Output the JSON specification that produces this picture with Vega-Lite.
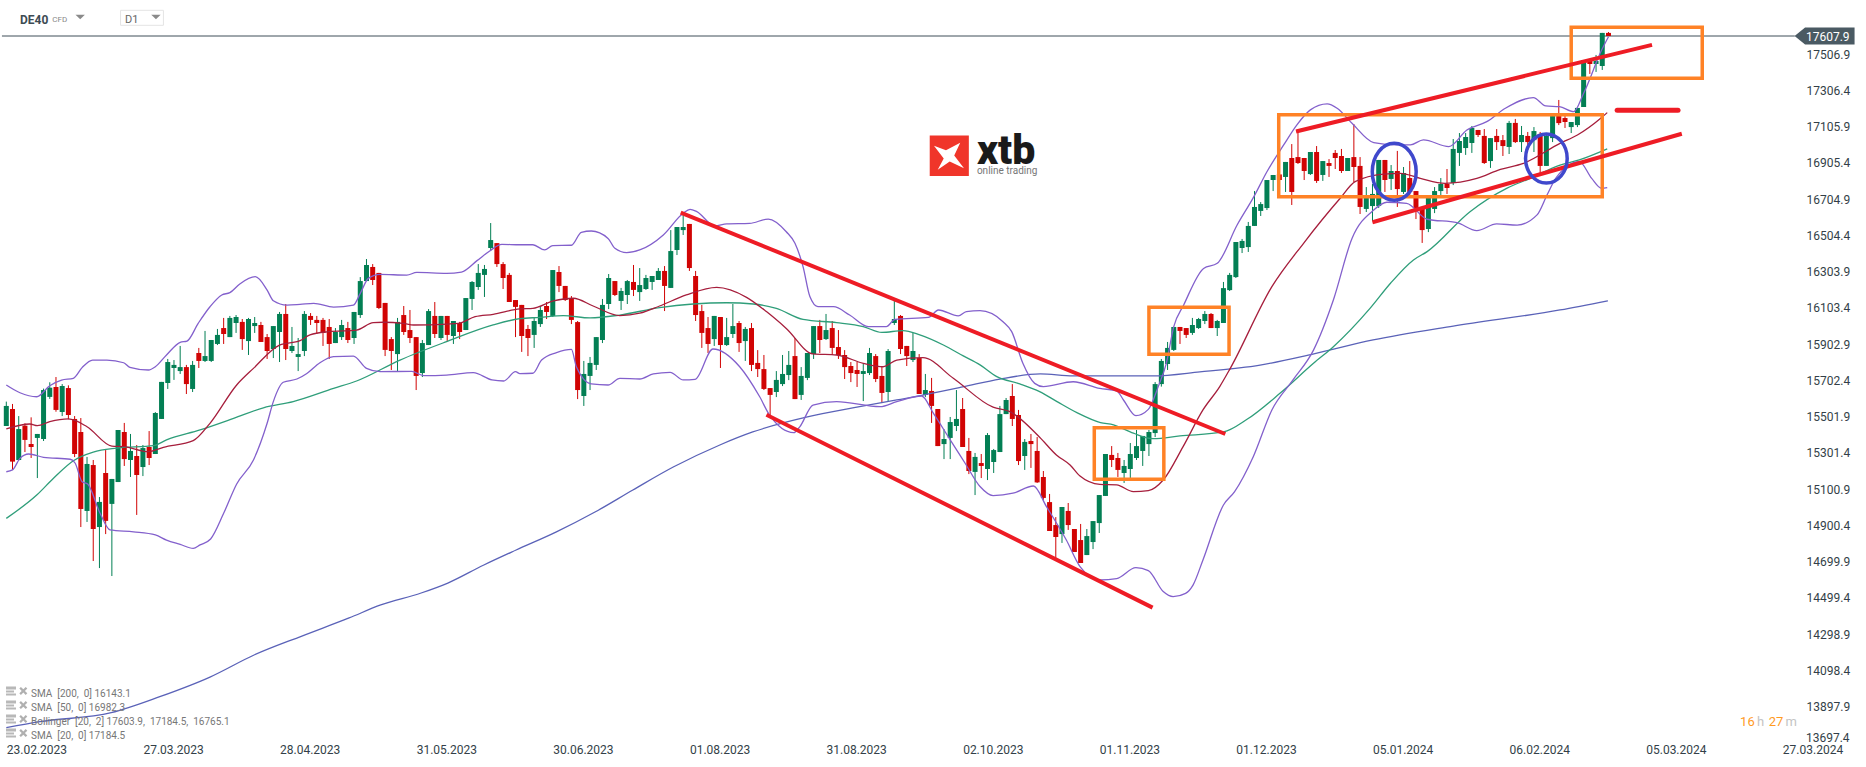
{
"$schema":"https://vega.github.io/schema/vega-lite/v6.json",
"width":1866,"height":767,"padding":0,"autosize":{"type":"none"},"background":"#ffffff",
"config":{"view":{"stroke":null},"font":"Roboto"},
"datasets":{
"candles":[
{"i":0,"o":15450,"c":15561,"h":15585,"l":15450},{"i":1,"o":15544,"c":15253,"h":15572,"l":15207},{"i":2,"o":15262,"c":15433,"h":15505,"l":15258},{"i":3,"o":15452,"c":15373,"h":15465,"l":15306},{"i":4,"o":15350,"c":15334,"h":15498,"l":15273},{"i":5,"o":15384,"c":15406,"h":15406,"l":15162},{"i":6,"o":15378,"c":15649,"h":15657,"l":15367},{"i":7,"o":15611,"c":15662,"h":15692,"l":15600},{"i":8,"o":15666,"c":15539,"h":15721,"l":15529},{"i":9,"o":15527,"c":15671,"h":15682,"l":15505},
{"i":10,"o":15660,"c":15511,"h":15675,"l":15487},{"i":11,"o":15489,"c":15295,"h":15505,"l":15278},{"i":12,"o":15417,"c":14991,"h":15494,"l":14891},{"i":13,"o":14980,"c":15240,"h":15279,"l":14919},{"i":14,"o":15234,"c":14880,"h":15262,"l":14703},{"i":15,"o":14891,"c":15030,"h":15057,"l":14664},{"i":16,"o":15190,"c":14925,"h":15317,"l":14852},{"i":17,"o":15019,"c":15157,"h":15157,"l":14620},{"i":18,"o":15140,"c":15428,"h":15428,"l":15140},{"i":19,"o":15417,"c":15267,"h":15467,"l":15229},
{"i":20,"o":15262,"c":15312,"h":15406,"l":15168},{"i":21,"o":15284,"c":15179,"h":15345,"l":14958},{"i":22,"o":15223,"c":15328,"h":15345,"l":15173},{"i":23,"o":15334,"c":15273,"h":15422,"l":15234},{"i":24,"o":15295,"c":15522,"h":15527,"l":15295},{"i":25,"o":15489,"c":15694,"h":15694,"l":15489},{"i":26,"o":15688,"c":15804,"h":15821,"l":15655},{"i":27,"o":15771,"c":15788,"h":15815,"l":15705},{"i":28,"o":15754,"c":15776,"h":15893,"l":15738},{"i":29,"o":15776,"c":15682,"h":15788,"l":15627},
{"i":30,"o":15655,"c":15788,"h":15810,"l":15638},{"i":31,"o":15854,"c":15810,"h":15882,"l":15771},{"i":32,"o":15810,"c":15837,"h":15976,"l":15804},{"i":33,"o":15810,"c":15926,"h":15926,"l":15804},{"i":34,"o":15904,"c":15954,"h":15987,"l":15898},{"i":35,"o":15992,"c":15959,"h":16048,"l":15904},{"i":36,"o":15942,"c":16048,"h":16059,"l":15942},{"i":37,"o":16020,"c":16053,"h":16064,"l":15965},{"i":38,"o":16026,"c":15931,"h":16042,"l":15871},{"i":39,"o":15920,"c":16042,"h":16048,"l":15843},
{"i":40,"o":16003,"c":16020,"h":16053,"l":15965},{"i":41,"o":16009,"c":15915,"h":16026,"l":15915},{"i":42,"o":15942,"c":15865,"h":15959,"l":15821},{"i":43,"o":15876,"c":16003,"h":16003,"l":15826},{"i":44,"o":15970,"c":16070,"h":16081,"l":15804},{"i":45,"o":16070,"c":15876,"h":16125,"l":15815},{"i":46,"o":15865,"c":15893,"h":15998,"l":15854},{"i":47,"o":15832,"c":15848,"h":15937,"l":15754},{"i":48,"o":15865,"c":16070,"h":16086,"l":15837},{"i":49,"o":16059,"c":16037,"h":16075,"l":16009},
{"i":50,"o":16037,"c":16020,"h":16059,"l":15959},{"i":51,"o":16037,"c":15965,"h":16048,"l":15893},{"i":52,"o":15998,"c":15904,"h":16042,"l":15821},{"i":53,"o":15909,"c":15970,"h":15992,"l":15909},{"i":54,"o":15942,"c":16009,"h":16037,"l":15926},{"i":55,"o":15992,"c":15926,"h":16026,"l":15909},{"i":56,"o":15937,"c":16081,"h":16081,"l":15904},{"i":57,"o":16064,"c":16252,"h":16274,"l":16048},{"i":58,"o":16252,"c":16341,"h":16374,"l":16252},{"i":59,"o":16330,"c":16258,"h":16346,"l":16230},
{"i":60,"o":16297,"c":16103,"h":16297,"l":16097},{"i":61,"o":16131,"c":15871,"h":16131,"l":15837},{"i":62,"o":15931,"c":15865,"h":15942,"l":15760},{"i":63,"o":15848,"c":16026,"h":16048,"l":15754},{"i":64,"o":16064,"c":15970,"h":16114,"l":15954},{"i":65,"o":15981,"c":15937,"h":16092,"l":15909},{"i":66,"o":15942,"c":15727,"h":15942,"l":15649},{"i":67,"o":15743,"c":15909,"h":15926,"l":15721},{"i":68,"o":15898,"c":16086,"h":16097,"l":15898},{"i":69,"o":16059,"c":15959,"h":16136,"l":15937},
{"i":70,"o":15937,"c":16059,"h":16059,"l":15926},{"i":71,"o":16059,"c":15954,"h":16059,"l":15920},{"i":72,"o":15948,"c":16031,"h":16031,"l":15904},{"i":73,"o":16020,"c":15970,"h":16026,"l":15931},{"i":74,"o":15981,"c":16158,"h":16158,"l":15981},{"i":75,"o":16153,"c":16247,"h":16252,"l":16092},{"i":76,"o":16219,"c":16297,"h":16346,"l":16203},{"i":77,"o":16286,"c":16319,"h":16341,"l":16164},{"i":78,"o":16435,"c":16479,"h":16573,"l":16418},{"i":79,"o":16462,"c":16346,"h":16462,"l":16330},
{"i":80,"o":16346,"c":16269,"h":16357,"l":16208},{"i":81,"o":16286,"c":16136,"h":16297,"l":16136},{"i":82,"o":16147,"c":16109,"h":16147,"l":15942},{"i":83,"o":16120,"c":15948,"h":16120,"l":15860},{"i":84,"o":15987,"c":15937,"h":16009,"l":15837},{"i":85,"o":15954,"c":16031,"h":16053,"l":15882},{"i":86,"o":16014,"c":16092,"h":16114,"l":15998},{"i":87,"o":16114,"c":16081,"h":16136,"l":16042},{"i":88,"o":16059,"c":16313,"h":16313,"l":16053},{"i":89,"o":16302,"c":16225,"h":16335,"l":16191},
{"i":90,"o":16225,"c":16147,"h":16225,"l":16142},{"i":91,"o":16158,"c":16037,"h":16169,"l":16014},{"i":92,"o":16025,"c":15649,"h":16031,"l":15599},{"i":93,"o":15616,"c":15738,"h":15810,"l":15561},{"i":94,"o":15727,"c":15799,"h":15832,"l":15649},{"i":95,"o":15788,"c":15942,"h":15942,"l":15760},{"i":96,"o":15926,"c":16120,"h":16153,"l":15909},{"i":97,"o":16125,"c":16269,"h":16291,"l":16097},{"i":98,"o":16252,"c":16175,"h":16252,"l":16169},{"i":99,"o":16142,"c":16197,"h":16214,"l":16092},
{"i":100,"o":16175,"c":16252,"h":16258,"l":16125},{"i":101,"o":16247,"c":16203,"h":16341,"l":16169},{"i":102,"o":16191,"c":16230,"h":16324,"l":16142},{"i":103,"o":16208,"c":16269,"h":16286,"l":16203},{"i":104,"o":16247,"c":16280,"h":16280,"l":16203},{"i":105,"o":16258,"c":16308,"h":16324,"l":16258},{"i":106,"o":16308,"c":16225,"h":16335,"l":16086},{"i":107,"o":16214,"c":16418,"h":16534,"l":16214},{"i":108,"o":16424,"c":16551,"h":16551,"l":16396},{"i":109,"o":16534,"c":16551,"h":16617,"l":16507},
{"i":110,"o":16568,"c":16324,"h":16568,"l":16308},{"i":111,"o":16280,"c":16064,"h":16308,"l":16031},{"i":112,"o":16086,"c":15965,"h":16120,"l":15882},{"i":113,"o":15992,"c":15904,"h":16053,"l":15854},{"i":114,"o":15931,"c":16059,"h":16059,"l":15893},{"i":115,"o":16053,"c":15898,"h":16053,"l":15771},{"i":116,"o":15898,"c":15942,"h":16048,"l":15893},{"i":117,"o":15959,"c":16003,"h":16125,"l":15937},{"i":118,"o":16020,"c":15909,"h":16031,"l":15860},{"i":119,"o":15920,"c":15987,"h":15998,"l":15810},
{"i":120,"o":15992,"c":15788,"h":16020,"l":15754},{"i":121,"o":15799,"c":15765,"h":15870,"l":15721},{"i":122,"o":15765,"c":15655,"h":15843,"l":15649},{"i":123,"o":15660,"c":15622,"h":15660,"l":15505},{"i":124,"o":15638,"c":15705,"h":15754,"l":15610},{"i":125,"o":15682,"c":15738,"h":15843,"l":15671},{"i":126,"o":15732,"c":15788,"h":15865,"l":15704},{"i":127,"o":15837,"c":15599,"h":15937,"l":15599},{"i":128,"o":15622,"c":15727,"h":15776,"l":15594},{"i":129,"o":15716,"c":15854,"h":15854,"l":15704},
{"i":130,"o":15848,"c":16003,"h":16003,"l":15821},{"i":131,"o":16003,"c":15926,"h":16037,"l":15854},{"i":132,"o":15931,"c":15981,"h":16070,"l":15926},{"i":133,"o":15992,"c":15882,"h":16031,"l":15843},{"i":134,"o":15887,"c":15843,"h":15981,"l":15821},{"i":135,"o":15843,"c":15776,"h":15870,"l":15710},{"i":136,"o":15782,"c":15743,"h":15804,"l":15693},{"i":137,"o":15760,"c":15738,"h":15804,"l":15666},{"i":138,"o":15738,"c":15754,"h":15793,"l":15588},{"i":139,"o":15743,"c":15854,"h":15882,"l":15732},
{"i":140,"o":15837,"c":15710,"h":15848,"l":15693},{"i":141,"o":15727,"c":15633,"h":15782,"l":15577},{"i":142,"o":15638,"c":15865,"h":15876,"l":15588},{"i":143,"o":16020,"c":16042,"h":16142,"l":16009},{"i":144,"o":16059,"c":15876,"h":16064,"l":15848},{"i":145,"o":15893,"c":15837,"h":15893,"l":15782},{"i":146,"o":15815,"c":15865,"h":15965,"l":15804},{"i":147,"o":15826,"c":15627,"h":15848,"l":15627},{"i":148,"o":15622,"c":15649,"h":15738,"l":15610},{"i":149,"o":15644,"c":15561,"h":15716,"l":15467},
{"i":150,"o":15544,"c":15339,"h":15544,"l":15339},{"i":151,"o":15350,"c":15378,"h":15433,"l":15267},{"i":152,"o":15384,"c":15472,"h":15500,"l":15267},{"i":153,"o":15450,"c":15489,"h":15649,"l":15422},{"i":154,"o":15544,"c":15334,"h":15605,"l":15334},{"i":155,"o":15312,"c":15201,"h":15384,"l":15184},{"i":156,"o":15196,"c":15279,"h":15301,"l":15068},{"i":157,"o":15245,"c":15229,"h":15295,"l":15162},{"i":158,"o":15212,"c":15400,"h":15411,"l":15151},{"i":159,"o":15251,"c":15317,"h":15323,"l":15190},
{"i":160,"o":15306,"c":15516,"h":15561,"l":15306},{"i":161,"o":15516,"c":15594,"h":15605,"l":15516},{"i":162,"o":15616,"c":15489,"h":15682,"l":15450},{"i":163,"o":15511,"c":15256,"h":15539,"l":15234},{"i":164,"o":15284,"c":15362,"h":15378,"l":15207},{"i":165,"o":15367,"c":15350,"h":15406,"l":15218},{"i":166,"o":15312,"c":15138,"h":15389,"l":15135},{"i":167,"o":15168,"c":15052,"h":15201,"l":15041},{"i":168,"o":15029,"c":14869,"h":15074,"l":14869},{"i":169,"o":14902,"c":14836,"h":14946,"l":14720},
{"i":170,"o":14852,"c":15002,"h":15002,"l":14803},{"i":171,"o":14980,"c":14902,"h":15024,"l":14875},{"i":172,"o":14880,"c":14753,"h":14880,"l":14753},{"i":173,"o":14819,"c":14692,"h":14908,"l":14692},{"i":174,"o":14736,"c":14841,"h":14880,"l":14736},{"i":175,"o":14808,"c":14924,"h":14924,"l":14769},{"i":176,"o":14913,"c":15068,"h":15068,"l":14858},{"i":177,"o":15063,"c":15295,"h":15295,"l":15063},{"i":178,"o":15290,"c":15262,"h":15339,"l":15223},{"i":179,"o":15273,"c":15207,"h":15301,"l":15168},
{"i":180,"o":15190,"c":15229,"h":15262,"l":15135},{"i":181,"o":15212,"c":15295,"h":15356,"l":15162},{"i":182,"o":15273,"c":15339,"h":15428,"l":15262},{"i":183,"o":15312,"c":15395,"h":15395,"l":15229},{"i":184,"o":15350,"c":15417,"h":15428,"l":15284},{"i":185,"o":15411,"c":15682,"h":15693,"l":15389},{"i":186,"o":15682,"c":15810,"h":15821,"l":15668},{"i":187,"o":15793,"c":15882,"h":15915,"l":15760},{"i":188,"o":15871,"c":15998,"h":15998,"l":15865},{"i":189,"o":15998,"c":15976,"h":15998,"l":15904},
{"i":190,"o":15992,"c":15954,"h":15992,"l":15937},{"i":191,"o":15965,"c":16009,"h":16048,"l":15954},{"i":192,"o":15992,"c":16042,"h":16048,"l":15987},{"i":193,"o":16031,"c":16070,"h":16086,"l":16014},{"i":194,"o":16070,"c":15992,"h":16075,"l":15992},{"i":195,"o":15992,"c":16031,"h":16037,"l":15948},{"i":196,"o":16020,"c":16213,"h":16247,"l":16020},{"i":197,"o":16202,"c":16286,"h":16297,"l":16197},{"i":198,"o":16274,"c":16468,"h":16468,"l":16269},{"i":199,"o":16435,"c":16474,"h":16485,"l":16407},
{"i":200,"o":16440,"c":16557,"h":16579,"l":16413},{"i":201,"o":16557,"c":16662,"h":16750,"l":16557},{"i":202,"o":16640,"c":16678,"h":16689,"l":16612},{"i":203,"o":16656,"c":16811,"h":16811,"l":16645},{"i":204,"o":16811,"c":16839,"h":16839,"l":16750},{"i":205,"o":16842,"c":16811,"h":16850,"l":16800},{"i":206,"o":16828,"c":16911,"h":16911,"l":16745},{"i":207,"o":16933,"c":16745,"h":17010,"l":16673},{"i":208,"o":16938,"c":16905,"h":17082,"l":16900},{"i":209,"o":16933,"c":16861,"h":16933,"l":16811},
{"i":210,"o":16844,"c":16966,"h":16966,"l":16839},{"i":211,"o":16966,"c":16806,"h":16999,"l":16795},{"i":212,"o":16839,"c":16916,"h":16916,"l":16806},{"i":213,"o":16905,"c":16889,"h":16927,"l":16828},{"i":214,"o":16961,"c":16933,"h":16977,"l":16872},{"i":215,"o":16944,"c":16861,"h":16983,"l":16850},{"i":216,"o":16861,"c":16933,"h":16933,"l":16861},{"i":217,"o":16938,"c":16883,"h":17121,"l":16800},{"i":218,"o":16889,"c":16662,"h":16938,"l":16623},{"i":219,"o":16651,"c":16717,"h":16772,"l":16634},
{"i":220,"o":16667,"c":16734,"h":16789,"l":16584},{"i":221,"o":16667,"c":16922,"h":16922,"l":16656},{"i":222,"o":16922,"c":16811,"h":16922,"l":16745},{"i":223,"o":16817,"c":16861,"h":16894,"l":16756},{"i":224,"o":16861,"c":16761,"h":16972,"l":16662},{"i":225,"o":16745,"c":16850,"h":16883,"l":16734},{"i":226,"o":16822,"c":16745,"h":16916,"l":16728},{"i":227,"o":16750,"c":16656,"h":16750,"l":16595},{"i":228,"o":16651,"c":16534,"h":16651,"l":16463},{"i":229,"o":16540,"c":16712,"h":16712,"l":16523},
{"i":230,"o":16651,"c":16750,"h":16772,"l":16628},{"i":231,"o":16750,"c":16789,"h":16822,"l":16728},{"i":232,"o":16789,"c":16767,"h":16872,"l":16734},{"i":233,"o":16795,"c":16983,"h":17038,"l":16783},{"i":234,"o":16961,"c":17027,"h":17071,"l":16889},{"i":235,"o":16988,"c":17049,"h":17071,"l":16950},{"i":236,"o":17016,"c":17099,"h":17110,"l":16961},{"i":237,"o":17088,"c":17060,"h":17088,"l":17049},{"i":238,"o":17055,"c":16905,"h":17093,"l":16900},{"i":239,"o":16916,"c":17043,"h":17043,"l":16878},
{"i":240,"o":17055,"c":17021,"h":17093,"l":16977},{"i":241,"o":17032,"c":16999,"h":17060,"l":16944},{"i":242,"o":16994,"c":17127,"h":17138,"l":16955},{"i":243,"o":17127,"c":17021,"h":17149,"l":17016},{"i":244,"o":17021,"c":17060,"h":17110,"l":16966},{"i":245,"o":17055,"c":17021,"h":17077,"l":16977},{"i":246,"o":17032,"c":17082,"h":17104,"l":16966},{"i":247,"o":17066,"c":16889,"h":17077,"l":16850},{"i":248,"o":16889,"c":17055,"h":17071,"l":16889},{"i":249,"o":17043,"c":17165,"h":17171,"l":17021},
{"i":250,"o":17165,"c":17126,"h":17254,"l":17115},{"i":251,"o":17154,"c":17132,"h":17165,"l":17099},{"i":252,"o":17104,"c":17132,"h":17132,"l":17071},{"i":253,"o":17115,"c":17210,"h":17210,"l":17104},{"i":254,"o":17215,"c":17475,"h":17475,"l":17215},{"i":255,"o":17475,"c":17453,"h":17475,"l":17398},{"i":256,"o":17453,"c":17470,"h":17503,"l":17409},{"i":257,"o":17442,"c":17625,"h":17625,"l":17420},{"i":258,"o":17625,"c":17608,"h":17630,"l":17608}
],
"lines":[
{"s":"SMA200","i":0,"p":13781},{"s":"SMA200","i":5.4,"p":13814},{"s":"SMA200","i":16.9,"p":13864},{"s":"SMA200","i":24.6,"p":13951},{"s":"SMA200","i":32.8,"p":14061},{"s":"SMA200","i":39.9,"p":14183},{"s":"SMA200","i":47.6,"p":14288},{"s":"SMA200","i":55.2,"p":14388},{"s":"SMA200","i":60.3,"p":14460},{"s":"SMA200","i":66.8,"p":14526},{"s":"SMA200","i":71.1,"p":14581},{"s":"SMA200","i":76.9,"p":14681},{"s":"SMA200","i":82.1,"p":14764},{"s":"SMA200","i":88.5,"p":14863},{"s":"SMA200","i":94.8,"p":14974},{"s":"SMA200","i":100.9,"p":15096},{"s":"SMA200","i":107.4,"p":15223},{"s":"SMA200","i":114.9,"p":15345},{"s":"SMA200","i":120.2,"p":15417},{"s":"SMA200","i":129,"p":15500},{"s":"SMA200","i":136.3,"p":15550},{"s":"SMA200","i":143.4,"p":15594},{"s":"SMA200","i":147.6,"p":15621},{"s":"SMA200","i":154,"p":15666},{"s":"SMA200","i":160,"p":15710},{"s":"SMA200","i":166.5,"p":15738},{"s":"SMA200","i":171.8,"p":15727},{"s":"SMA200","i":184.7,"p":15727},{"s":"SMA200","i":192.2,"p":15749},{"s":"SMA200","i":201.9,"p":15787},{"s":"SMA200","i":210.4,"p":15848},{"s":"SMA200","i":220.1,"p":15926},{"s":"SMA200","i":233,"p":16003},{"s":"SMA200","i":250.2,"p":16092},{"s":"SMA200","i":257.9,"p":16143},
{"s":"SMA50","i":0,"p":14939},{"s":"SMA50","i":4.9,"p":15068},{"s":"SMA50","i":7.6,"p":15161},{"s":"SMA50","i":10.8,"p":15258},{"s":"SMA50","i":14,"p":15306},{"s":"SMA50","i":17.8,"p":15328},{"s":"SMA50","i":23.7,"p":15341},{"s":"SMA50","i":25.8,"p":15373},{"s":"SMA50","i":31.2,"p":15428},{"s":"SMA50","i":36.6,"p":15492},{"s":"SMA50","i":41.4,"p":15551},{"s":"SMA50","i":46.2,"p":15585},{"s":"SMA50","i":52.7,"p":15658},{"s":"SMA50","i":56.4,"p":15699},{"s":"SMA50","i":63.4,"p":15815},{"s":"SMA50","i":70.9,"p":15917},{"s":"SMA50","i":78.4,"p":16009},{"s":"SMA50","i":82.7,"p":16044},{"s":"SMA50","i":85.9,"p":16051},{"s":"SMA50","i":89.7,"p":16061},{"s":"SMA50","i":94,"p":16048},{"s":"SMA50","i":98.8,"p":16064},{"s":"SMA50","i":105.2,"p":16105},{"s":"SMA50","i":110.6,"p":16125},{"s":"SMA50","i":116,"p":16132},{"s":"SMA50","i":120.3,"p":16125},{"s":"SMA50","i":124,"p":16101},{"s":"SMA50","i":128.3,"p":16040},{"s":"SMA50","i":133.7,"p":16022},{"s":"SMA50","i":138,"p":16000},{"s":"SMA50","i":141,"p":15968},{"s":"SMA50","i":144.4,"p":15978},{"s":"SMA50","i":147.1,"p":15954},{"s":"SMA50","i":150.9,"p":15898},{"s":"SMA50","i":154.1,"p":15838},{"s":"SMA50","i":156.8,"p":15788},{"s":"SMA50","i":159.5,"p":15723},{"s":"SMA50","i":163.2,"p":15683},{"s":"SMA50","i":166.4,"p":15640},{"s":"SMA50","i":169.2,"p":15585},{"s":"SMA50","i":172.4,"p":15524},{"s":"SMA50","i":176.2,"p":15469},{"s":"SMA50","i":178.3,"p":15456},{"s":"SMA50","i":181.5,"p":15410},{"s":"SMA50","i":184.7,"p":15380},{"s":"SMA50","i":189,"p":15395},{"s":"SMA50","i":196,"p":15417},{"s":"SMA50","i":199.8,"p":15487},{"s":"SMA50","i":205.1,"p":15631},{"s":"SMA50","i":210.5,"p":15797},{"s":"SMA50","i":213.7,"p":15889},{"s":"SMA50","i":219.6,"p":16101},{"s":"SMA50","i":222.9,"p":16240},{"s":"SMA50","i":226.6,"p":16369},{"s":"SMA50","i":228.8,"p":16415},{"s":"SMA50","i":235.7,"p":16636},{"s":"SMA50","i":241.6,"p":16765},{"s":"SMA50","i":245.4,"p":16820},{"s":"SMA50","i":250.2,"p":16894},{"s":"SMA50","i":253.3,"p":16922},{"s":"SMA50","i":257.8,"p":16983},
{"s":"SMA20","i":0,"p":15434},{"s":"SMA20","i":3.8,"p":15461},{"s":"SMA20","i":5,"p":15452},{"s":"SMA20","i":7,"p":15474},{"s":"SMA20","i":10,"p":15489},{"s":"SMA20","i":13,"p":15446},{"s":"SMA20","i":17,"p":15339},{"s":"SMA20","i":18.9,"p":15336},{"s":"SMA20","i":22.9,"p":15308},{"s":"SMA20","i":25.3,"p":15332},{"s":"SMA20","i":30.1,"p":15369},{"s":"SMA20","i":32.8,"p":15465},{"s":"SMA20","i":37.1,"p":15677},{"s":"SMA20","i":39.8,"p":15769},{"s":"SMA20","i":44,"p":15898},{"s":"SMA20","i":47.3,"p":15922},{"s":"SMA20","i":48.9,"p":15954},{"s":"SMA20","i":51.9,"p":15972},{"s":"SMA20","i":56.4,"p":15981},{"s":"SMA20","i":59.1,"p":16022},{"s":"SMA20","i":60.7,"p":16024},{"s":"SMA20","i":63.9,"p":16018},{"s":"SMA20","i":65.6,"p":16009},{"s":"SMA20","i":71,"p":16014},{"s":"SMA20","i":72.8,"p":16018},{"s":"SMA20","i":75.5,"p":16055},{"s":"SMA20","i":78.4,"p":16068},{"s":"SMA20","i":82.7,"p":16098},{"s":"SMA20","i":84.8,"p":16101},{"s":"SMA20","i":88.1,"p":16142},{"s":"SMA20","i":91.3,"p":16157},{"s":"SMA20","i":94.5,"p":16114},{"s":"SMA20","i":98.8,"p":16061},{"s":"SMA20","i":102,"p":16074},{"s":"SMA20","i":105.2,"p":16114},{"s":"SMA20","i":109.5,"p":16175},{"s":"SMA20","i":114.4,"p":16217},{"s":"SMA20","i":119.2,"p":16162},{"s":"SMA20","i":122.4,"p":16083},{"s":"SMA20","i":125.6,"p":15990},{"s":"SMA20","i":129.9,"p":15849},{"s":"SMA20","i":133.7,"p":15843},{"s":"SMA20","i":138,"p":15797},{"s":"SMA20","i":141.2,"p":15778},{"s":"SMA20","i":143.4,"p":15815},{"s":"SMA20","i":147.6,"p":15828},{"s":"SMA20","i":152.5,"p":15714},{"s":"SMA20","i":158.9,"p":15554},{"s":"SMA20","i":161.6,"p":15530},{"s":"SMA20","i":166.4,"p":15388},{"s":"SMA20","i":169.1,"p":15290},{"s":"SMA20","i":171.3,"p":15234},{"s":"SMA20","i":172.9,"p":15173},{"s":"SMA20","i":176.1,"p":15127},{"s":"SMA20","i":178.8,"p":15124},{"s":"SMA20","i":181.5,"p":15087},{"s":"SMA20","i":183.9,"p":15092},{"s":"SMA20","i":186.3,"p":15151},{"s":"SMA20","i":189.5,"p":15336},{"s":"SMA20","i":192.7,"p":15539},{"s":"SMA20","i":195.4,"p":15668},{"s":"SMA20","i":197.1,"p":15769},{"s":"SMA20","i":203.8,"p":16221},{"s":"SMA20","i":208.9,"p":16461},{"s":"SMA20","i":214.8,"p":16710},{"s":"SMA20","i":217.2,"p":16802},{"s":"SMA20","i":221.8,"p":16844},{"s":"SMA20","i":224.5,"p":16848},{"s":"SMA20","i":227.7,"p":16820},{"s":"SMA20","i":231.7,"p":16793},{"s":"SMA20","i":236.8,"p":16820},{"s":"SMA20","i":240.6,"p":16870},{"s":"SMA20","i":244.3,"p":16903},{"s":"SMA20","i":250.2,"p":17014},{"s":"SMA20","i":253,"p":17060},{"s":"SMA20","i":256.8,"p":17154},{"s":"SMA20","i":257.8,"p":17184},
{"s":"Upper","i":0,"p":15677},{"s":"Upper","i":2.2,"p":15634},{"s":"Upper","i":4.9,"p":15612},{"s":"Upper","i":7,"p":15673},{"s":"Upper","i":8.9,"p":15704},{"s":"Upper","i":10.8,"p":15714},{"s":"Upper","i":12.2,"p":15773},{"s":"Upper","i":13.9,"p":15815},{"s":"Upper","i":16.2,"p":15815},{"s":"Upper","i":18.9,"p":15800},{"s":"Upper","i":19.9,"p":15775},{"s":"Upper","i":22.9,"p":15760},{"s":"Upper","i":24,"p":15778},{"s":"Upper","i":25.8,"p":15843},{"s":"Upper","i":28,"p":15913},{"s":"Upper","i":29.1,"p":15920},{"s":"Upper","i":30.9,"p":16018},{"s":"Upper","i":32.8,"p":16110},{"s":"Upper","i":34.7,"p":16175},{"s":"Upper","i":36,"p":16188},{"s":"Upper","i":37.6,"p":16236},{"s":"Upper","i":40.1,"p":16276},{"s":"Upper","i":42,"p":16202},{"s":"Upper","i":43,"p":16143},{"s":"Upper","i":45.2,"p":16119},{"s":"Upper","i":47.3,"p":16123},{"s":"Upper","i":49.5,"p":16129},{"s":"Upper","i":52.7,"p":16108},{"s":"Upper","i":55.9,"p":16119},{"s":"Upper","i":57,"p":16184},{"s":"Upper","i":58.3,"p":16267},{"s":"Upper","i":60.2,"p":16289},{"s":"Upper","i":64.5,"p":16285},{"s":"Upper","i":66.1,"p":16300},{"s":"Upper","i":70.9,"p":16295},{"s":"Upper","i":73.3,"p":16302},{"s":"Upper","i":75.8,"p":16365},{"s":"Upper","i":77.9,"p":16420},{"s":"Upper","i":79.8,"p":16455},{"s":"Upper","i":82.7,"p":16453},{"s":"Upper","i":84.8,"p":16453},{"s":"Upper","i":86.7,"p":16424},{"s":"Upper","i":88,"p":16448},{"s":"Upper","i":91,"p":16450},{"s":"Upper","i":92.6,"p":16522},{"s":"Upper","i":94.2,"p":16529},{"s":"Upper","i":96.9,"p":16488},{"s":"Upper","i":98,"p":16433},{"s":"Upper","i":99.9,"p":16409},{"s":"Upper","i":102,"p":16424},{"s":"Upper","i":105.8,"p":16507},{"s":"Upper","i":109,"p":16627},{"s":"Upper","i":110.1,"p":16649},{"s":"Upper","i":111.2,"p":16636},{"s":"Upper","i":114.1,"p":16557},{"s":"Upper","i":116,"p":16568},{"s":"Upper","i":119.7,"p":16571},{"s":"Upper","i":122.7,"p":16595},{"s":"Upper","i":125.6,"p":16525},{"s":"Upper","i":127,"p":16461},{"s":"Upper","i":128.3,"p":16332},{"s":"Upper","i":129.4,"p":16166},{"s":"Upper","i":130.7,"p":16110},{"s":"Upper","i":133.2,"p":16110},{"s":"Upper","i":135.8,"p":16064},{"s":"Upper","i":138.8,"p":16000},{"s":"Upper","i":141.7,"p":16000},{"s":"Upper","i":143.1,"p":16040},{"s":"Upper","i":148.5,"p":16051},{"s":"Upper","i":150.1,"p":16092},{"s":"Upper","i":153.3,"p":16059},{"s":"Upper","i":154.6,"p":16083},{"s":"Upper","i":156.8,"p":16088},{"s":"Upper","i":160.5,"p":16027},{"s":"Upper","i":161.9,"p":15972},{"s":"Upper","i":163.7,"p":15797},{"s":"Upper","i":165.6,"p":15686},{"s":"Upper","i":167,"p":15668},{"s":"Upper","i":171.8,"p":15695},{"s":"Upper","i":176.1,"p":15658},{"s":"Upper","i":178.8,"p":15645},{"s":"Upper","i":179.9,"p":15594},{"s":"Upper","i":181.9,"p":15507},{"s":"Upper","i":183.9,"p":15542},{"s":"Upper","i":185.5,"p":15668},{"s":"Upper","i":186.8,"p":15797},{"s":"Upper","i":188,"p":16000},{"s":"Upper","i":189.6,"p":16120},{"s":"Upper","i":192.8,"p":16322},{"s":"Upper","i":195,"p":16350},{"s":"Upper","i":198.2,"p":16562},{"s":"Upper","i":200.9,"p":16719},{"s":"Upper","i":203,"p":16857},{"s":"Upper","i":205.7,"p":17005},{"s":"Upper","i":207.8,"p":17115},{"s":"Upper","i":210,"p":17199},{"s":"Upper","i":212.7,"p":17232},{"s":"Upper","i":214.3,"p":17208},{"s":"Upper","i":216.7,"p":17125},{"s":"Upper","i":220.2,"p":17018},{"s":"Upper","i":224,"p":17005},{"s":"Upper","i":226.1,"p":17005},{"s":"Upper","i":228.2,"p":17033},{"s":"Upper","i":232.3,"p":16996},{"s":"Upper","i":235.2,"p":17088},{"s":"Upper","i":238.4,"p":17134},{"s":"Upper","i":241.4,"p":17208},{"s":"Upper","i":245.9,"p":17267},{"s":"Upper","i":247.9,"p":17221},{"s":"Upper","i":250.1,"p":17217},{"s":"Upper","i":252.4,"p":17189},{"s":"Upper","i":254,"p":17291},{"s":"Upper","i":256.9,"p":17530},{"s":"Upper","i":258,"p":17604},
{"s":"Lower","i":0,"p":15197},{"s":"Lower","i":1,"p":15207},{"s":"Lower","i":2.2,"p":15271},{"s":"Lower","i":3.6,"p":15295},{"s":"Lower","i":6,"p":15277},{"s":"Lower","i":10.3,"p":15266},{"s":"Lower","i":11.1,"p":15244},{"s":"Lower","i":12.2,"p":15142},{"s":"Lower","i":13.1,"p":15129},{"s":"Lower","i":15.1,"p":14967},{"s":"Lower","i":16.7,"p":14875},{"s":"Lower","i":20.5,"p":14864},{"s":"Lower","i":24,"p":14847},{"s":"Lower","i":25.8,"p":14819},{"s":"Lower","i":28,"p":14795},{"s":"Lower","i":30.1,"p":14773},{"s":"Lower","i":31.2,"p":14792},{"s":"Lower","i":32.9,"p":14825},{"s":"Lower","i":35,"p":14967},{"s":"Lower","i":37.1,"p":15129},{"s":"Lower","i":39.8,"p":15262},{"s":"Lower","i":42,"p":15465},{"s":"Lower","i":43,"p":15585},{"s":"Lower","i":44.6,"p":15692},{"s":"Lower","i":46.8,"p":15710},{"s":"Lower","i":48.4,"p":15741},{"s":"Lower","i":50.5,"p":15800},{"s":"Lower","i":52.7,"p":15834},{"s":"Lower","i":55.9,"p":15837},{"s":"Lower","i":58,"p":15769},{"s":"Lower","i":60.2,"p":15751},{"s":"Lower","i":65.3,"p":15752},{"s":"Lower","i":67.2,"p":15729},{"s":"Lower","i":70.9,"p":15732},{"s":"Lower","i":75.2,"p":15745},{"s":"Lower","i":78.2,"p":15705},{"s":"Lower","i":80.1,"p":15699},{"s":"Lower","i":82,"p":15751},{"s":"Lower","i":82.7,"p":15740},{"s":"Lower","i":84.8,"p":15742},{"s":"Lower","i":86.2,"p":15815},{"s":"Lower","i":88.6,"p":15856},{"s":"Lower","i":91,"p":15874},{"s":"Lower","i":91.8,"p":15778},{"s":"Lower","i":94.2,"p":15683},{"s":"Lower","i":96.9,"p":15677},{"s":"Lower","i":98.8,"p":15714},{"s":"Lower","i":102,"p":15710},{"s":"Lower","i":104.2,"p":15738},{"s":"Lower","i":106.9,"p":15747},{"s":"Lower","i":109,"p":15705},{"s":"Lower","i":110.9,"p":15708},{"s":"Lower","i":113.8,"p":15876},{"s":"Lower","i":118.1,"p":15778},{"s":"Lower","i":121.3,"p":15613},{"s":"Lower","i":122.9,"p":15511},{"s":"Lower","i":126.8,"p":15413},{"s":"Lower","i":127.8,"p":15447},{"s":"Lower","i":129.9,"p":15566},{"s":"Lower","i":133.7,"p":15585},{"s":"Lower","i":140.7,"p":15557},{"s":"Lower","i":143.4,"p":15585},{"s":"Lower","i":147.4,"p":15616},{"s":"Lower","i":149.3,"p":15520},{"s":"Lower","i":152,"p":15373},{"s":"Lower","i":154.4,"p":15244},{"s":"Lower","i":156.8,"p":15115},{"s":"Lower","i":158.9,"p":15065},{"s":"Lower","i":162.1,"p":15078},{"s":"Lower","i":165.4,"p":15118},{"s":"Lower","i":167.5,"p":15004},{"s":"Lower","i":170.7,"p":14819},{"s":"Lower","i":172.9,"p":14672},{"s":"Lower","i":176.1,"p":14598},{"s":"Lower","i":178.8,"p":14606},{"s":"Lower","i":181.9,"p":14666},{"s":"Lower","i":183.9,"p":14650},{"s":"Lower","i":186.3,"p":14534},{"s":"Lower","i":187.9,"p":14506},{"s":"Lower","i":189.9,"p":14524},{"s":"Lower","i":191.1,"p":14570},{"s":"Lower","i":192.7,"p":14709},{"s":"Lower","i":196,"p":15013},{"s":"Lower","i":197.8,"p":15087},{"s":"Lower","i":200.8,"p":15280},{"s":"Lower","i":203.8,"p":15539},{"s":"Lower","i":207.2,"p":15705},{"s":"Lower","i":210.5,"p":15870},{"s":"Lower","i":213.7,"p":16147},{"s":"Lower","i":216.7,"p":16488},{"s":"Lower","i":220.2,"p":16645},{"s":"Lower","i":222.3,"p":16688},{"s":"Lower","i":225.5,"p":16682},{"s":"Lower","i":228.8,"p":16594},{"s":"Lower","i":233.6,"p":16575},{"s":"Lower","i":236.8,"p":16531},{"s":"Lower","i":240,"p":16568},{"s":"Lower","i":243.3,"p":16562},{"s":"Lower","i":246.5,"p":16618},{"s":"Lower","i":248.1,"p":16728},{"s":"Lower","i":249.5,"p":16820},{"s":"Lower","i":253.3,"p":16913},{"s":"Lower","i":255.3,"p":16820},{"s":"Lower","i":256.9,"p":16765},{"s":"Lower","i":257.8,"p":16769}
],
"trends":[
{"i":108.9,"i2":196,"p":16627,"p2":15410},
{"i":122.7,"i2":184.3,"p":15507,"p2":14450},
{"i":208,"i2":264.7,"p":17082,"p2":17556},
{"i":220.3,"i2":269.5,"p":16580,"p2":17064}
],
"boxes":[
{"i":175.2,"i2":186.4,"p":15441,"p2":15155},
{"i":184,"i2":196.9,"p":16107,"p2":15847},
{"i":204.9,"i2":257,"p":17172,"p2":16719},
{"i":252,"i2":273.1,"p":17656,"p2":17374}
]
},
"encoding":{
"x":{"field":"i","type":"quantitative","title":null,
"scale":{"domain":[-1.0145,299.47],"nice":false,"zero":false,"padding":0},
"axis":{"values":[0,22,44,66,88,110,132,154,176,198,220,242,264,286],"labelExpr":"['23.02.2023','27.03.2023','28.04.2023','31.05.2023','30.06.2023','01.08.2023','31.08.2023','02.10.2023','01.11.2023','01.12.2023','05.01.2024','06.02.2024','05.03.2024','27.03.2024'][datum.value/22]","orient":"bottom","offset":-23,"domain":false,"ticks":false,"grid":false,"labelPadding":0,"labelAlign":"left","labelBaseline":"top","labelFont":"Roboto","labelFontSize":12,"labelColor":"#333f48","labelOverlap":false,"labelFlush":false,"labelBound":false}},
"y":{"field":"p","type":"quantitative","title":null,
"scale":{"domain":[13563.3,17807.1],"nice":false,"zero":false},
"axis":{"values":[17506.9,17306.4,17105.9,16905.4,16704.9,16504.4,16303.9,16103.4,15902.9,15702.4,15501.9,15301.4,15100.9,14900.4,14699.9,14499.4,14298.9,14098.4,13897.9],"format":".1f","orient":"right","offset":-60,"domain":false,"ticks":false,"grid":false,"labelPadding":0,"labelAlign":"left","labelBaseline":"middle","labelFont":"Roboto","labelFontSize":12,"labelColor":"#333f48","labelOverlap":false,"labelFlush":false,"labelBound":false}}
},
"layer":[
{"data":{"values":[{"i":-0.7,"i2":288,"p":17607.9}]},"mark":{"type":"rule","color":"#3f4f58","strokeWidth":1},"encoding":{"x2":{"field":"i2"}}},
{"data":{"name":"candles"},"mark":{"type":"rule","strokeWidth":1},
"encoding":{"y":{"field":"h","type":"quantitative","title":null,"scale":{"domain":[13563.3,17807.1],"nice":false,"zero":false},"axis":{"values":[17506.9,17306.4,17105.9,16905.4,16704.9,16504.4,16303.9,16103.4,15902.9,15702.4,15501.9,15301.4,15100.9,14900.4,14699.9,14499.4,14298.9,14098.4,13897.9],"format":".1f","orient":"right","offset":-60,"domain":false,"ticks":false,"grid":false,"labelPadding":0,"labelAlign":"left","labelBaseline":"middle","labelFont":"Roboto","labelFontSize":12,"labelColor":"#333f48","labelOverlap":false,"labelFlush":false,"labelBound":false}},"y2":{"field":"l"},"color":{"condition":{"test":"datum.c>=datum.o","value":"#037f54"},"value":"#d10404"}}},
{"data":{"name":"candles"},"mark":{"type":"bar","size":5,"orient":"vertical"},
"encoding":{"y":{"field":"o","type":"quantitative","title":null,"scale":{"domain":[13563.3,17807.1],"nice":false,"zero":false},"axis":{"values":[17506.9,17306.4,17105.9,16905.4,16704.9,16504.4,16303.9,16103.4,15902.9,15702.4,15501.9,15301.4,15100.9,14900.4,14699.9,14499.4,14298.9,14098.4,13897.9],"format":".1f","orient":"right","offset":-60,"domain":false,"ticks":false,"grid":false,"labelPadding":0,"labelAlign":"left","labelBaseline":"middle","labelFont":"Roboto","labelFontSize":12,"labelColor":"#333f48","labelOverlap":false,"labelFlush":false,"labelBound":false}},"y2":{"field":"c"},"color":{"condition":{"test":"datum.c>=datum.o","value":"#037f54"},"value":"#d10404"}}},
{"data":{"name":"lines"},"mark":{"type":"line","strokeWidth":1.3,"interpolate":"monotone"},
"encoding":{"detail":{"field":"s"},"color":{"field":"s","type":"nominal","legend":null,"scale":{"domain":["SMA200","SMA50","SMA20","Upper","Lower"],"range":["#5a62b8","#2f9e7a","#a61e3c","#8360cc","#8360cc"]}}}},
{"data":{"name":"boxes"},"mark":{"type":"rect","fill":null,"stroke":"#ff8226","strokeWidth":3.5},"encoding":{"x2":{"field":"i2"},"y2":{"field":"p2"}}},
{"data":{"name":"trends"},"mark":{"type":"rule","color":"#ee1c25","strokeWidth":4,"strokeCap":"square"},"encoding":{"x2":{"field":"i2"},"y2":{"field":"p2"}}},
{"data":{"values":[{"i":259.4,"i2":269.2,"p":17197}]},"mark":{"type":"rule","color":"#ee1c25","strokeWidth":5,"strokeCap":"round"},"encoding":{"x2":{"field":"i2"}}},
{"data":{"values":[{"i":223.5,"p":16857}]},"mark":{"type":"point","shape":"M0,-1A0.77,1 0 1,1 0,1A0.77,1 0 1,1 0,-1Z","size":3249,"filled":false,"stroke":"#3f48cc","strokeWidth":3.5,"opacity":1}},
{"data":{"values":[{"i":248,"p":16930}]},"mark":{"type":"point","shape":"M0,-1A0.85,1 0 1,1 0,1A0.85,1 0 1,1 0,-1Z","size":2401,"filled":false,"stroke":"#3f48cc","strokeWidth":3.5,"opacity":1}},
{"data":{"values":[{"i":292.8,"p":17607.9}]},"mark":{"type":"point","shape":"M-1,0L-0.65,-0.28L1,-0.28L1,0.28L-0.65,0.28Z","size":3600,"filled":true,"fill":"#4a5a63","stroke":null,"opacity":1}},
{"data":{"values":[{"i":289.8,"p":17604,"t":"17607.9"}]},"mark":{"type":"text","align":"left","baseline":"middle","font":"Roboto","fontSize":12,"color":"#ffffff"},"encoding":{"text":{"field":"t"}}},
{"data":{"values":[{"i":289.8,"p":13725,"t":"13697.4"}]},"mark":{"type":"text","align":"left","baseline":"middle","font":"Roboto","fontSize":12,"color":"#333f48"},"encoding":{"text":{"field":"t"}}},
{"data":{"values":[{"i":2.2,"p":17699,"t":"DE40"}]},"mark":{"type":"text","align":"left","baseline":"middle","font":"Roboto","fontSize":12,"fontWeight":"bold","color":"#3e4b53"},"encoding":{"text":{"field":"t"}}},
{"data":{"values":[{"i":7.4,"p":17696,"t":"CFD"}]},"mark":{"type":"text","align":"left","baseline":"middle","font":"Roboto","fontSize":8,"color":"#888888"},"encoding":{"text":{"field":"t"}}},
{"data":{"values":[{"i":18.4,"i2":25.3,"p":17750,"p2":17667}]},"mark":{"type":"rect","fill":"#ffffff","stroke":"#e4e4e4","strokeWidth":1},"encoding":{"x2":{"field":"i2"},"y2":{"field":"p2"}}},
{"data":{"values":[{"i":19.1,"p":17696,"t":"D1"}]},"mark":{"type":"text","align":"left","baseline":"middle","font":"Roboto","fontSize":11,"color":"#666666"},"encoding":{"text":{"field":"t"}}},
{"data":{"values":[{"i":11.9,"p":17713},{"i":24.1,"p":17713}]},"mark":{"type":"point","shape":"M-1,-0.5L1,-0.5L0,0.5Z","size":88,"filled":true,"fill":"#8a8a8a","stroke":null,"opacity":1}},
{"data":{"values":[{"i":148.7,"i2":155,"p":17057,"p2":16833}]},"mark":{"type":"rect","fill":"#f0352a"},"encoding":{"x2":{"field":"i2"},"y2":{"field":"p2"}}},
{"data":{"values":[{"i":151.8,"p":16938}]},"mark":{"type":"point","shape":"M-1,-0.75L-0.2,-0.45L0.75,-0.95L0.35,-0.1L1,0.75L0.05,0.3L-0.75,0.85L-0.35,0.1Z","size":900,"filled":true,"fill":"#ffffff","stroke":null,"opacity":1}},
{"data":{"values":[{"i":156.3,"p":16900,"t":"xtb"}]},"mark":{"type":"text","align":"left","baseline":"alphabetic","font":"Roboto","fontSize":41,"fontWeight":900,"color":"#1a1a1a"},"encoding":{"text":{"field":"t"}}},
{"data":{"values":[{"i":156.3,"p":16862,"t":"online trading"}]},"mark":{"type":"text","align":"left","baseline":"middle","font":"Roboto","fontSize":10,"color":"#777777"},"encoding":{"text":{"field":"t"}}},
{"data":{"values":[{"i":0.76,"p":13984},{"i":0.76,"p":13906},{"i":0.76,"p":13829},{"i":0.76,"p":13751}]},"mark":{"type":"point","shape":"M-1,-0.9H1V-0.3H-1Z M-1,-0.1H0.6V0.3H-1Z M-1,0.5H1V0.9H-1Z","size":100,"filled":true,"fill":"#b8b8b8","stroke":null,"opacity":1}},
{"data":{"values":[{"i":2.74,"p":13984},{"i":2.74,"p":13906},{"i":2.74,"p":13829},{"i":2.74,"p":13751}]},"mark":{"type":"point","shape":"M-1,-0.6L-0.6,-1L0,-0.4L0.6,-1L1,-0.6L0.4,0L1,0.6L0.6,1L0,0.4L-0.6,1L-1,0.6L-0.4,0Z","size":64,"filled":true,"fill":"#b0b0b0","stroke":null,"opacity":1}},
{"data":{"values":[{"i":3.98,"p":13969,"t":"SMA\u00a0\u00a0[200,\u00a0\u00a00] 16143.1"},{"i":3.98,"p":13891,"t":"SMA\u00a0\u00a0[50,\u00a0\u00a00] 16982.3"},{"i":3.98,"p":13814,"t":"Bollinger\u00a0\u00a0[20,\u00a0\u00a02] 17603.9,\u00a0\u00a017184.5,\u00a0\u00a016765.1"},{"i":3.98,"p":13736,"t":"SMA\u00a0\u00a0[20,\u00a0\u00a00] 17184.5"}]},"mark":{"type":"text","align":"left","baseline":"middle","font":"Roboto","fontSize":10,"color":"#777777"},"encoding":{"text":{"field":"t"}}},
{"data":{"values":[{"i":279.2,"p":13812,"t":"16"},{"i":283.8,"p":13812,"t":"27"}]},"mark":{"type":"text","align":"left","baseline":"middle","font":"Roboto","fontSize":13,"color":"#ff9a1f"},"encoding":{"text":{"field":"t"}}},
{"data":{"values":[{"i":281.9,"p":13812,"t":"h"},{"i":286.5,"p":13812,"t":"m"}]},"mark":{"type":"text","align":"left","baseline":"middle","font":"Roboto","fontSize":13,"color":"#c4c4c4"},"encoding":{"text":{"field":"t"}}}
]
}
